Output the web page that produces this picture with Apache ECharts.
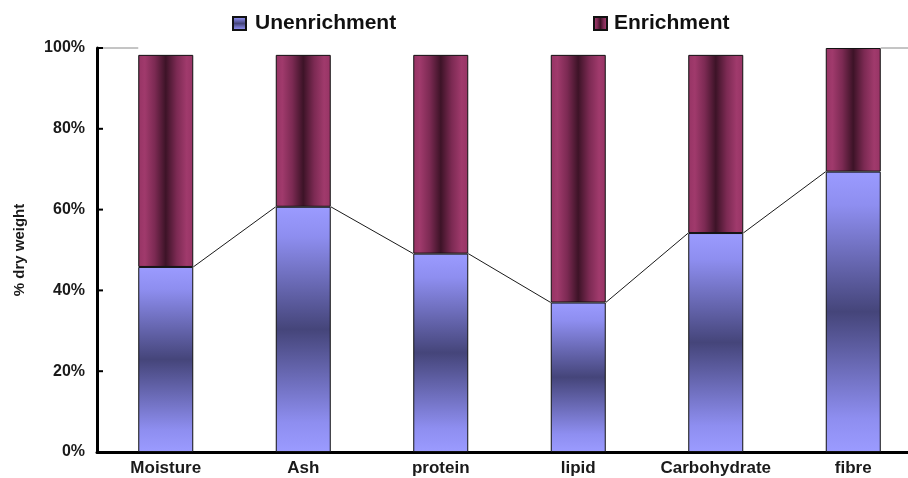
<!DOCTYPE html>
<html>
<head>
<meta charset="utf-8">
<script src="https://cdn.jsdelivr.net/npm/echarts@6/dist/echarts.min.js"></script>
<style>
  html, body { margin: 0; padding: 0; background: #ffffff; }
  #chart { width: 908px; height: 478px; }
</style>
</head>
<body>
<div id="chart"></div>
<script>
// Proximate composition, share of dry weight (%)
const categories = ['Moisture', 'Ash', 'protein', 'lipid', 'Carbohydrate', 'fibre'];
const unenrichment = [45.8, 60.7, 49.1, 37.0, 54.2, 69.4];
const enrichment = [52.5, 37.6, 49.2, 61.3, 44.1, 30.6];
const yTicks = [0, 20, 40, 60, 80, 100];

const FONT = '"Liberation Sans", Arial, sans-serif';
const BAR_RATIO = 0.4;
const TICK_LEN = 6;

const blueFill = new echarts.graphic.LinearGradient(0, 0, 0, 1, [
  { offset: 0, color: '#9b9bff' },
  { offset: 0.12, color: '#8e8ef0' },
  { offset: 0.5, color: '#45457a' },
  { offset: 0.88, color: '#8e8ef0' },
  { offset: 1, color: '#9b9bff' }
]);
const plumFill = new echarts.graphic.LinearGradient(0, 0, 1, 0, [
  { offset: 0, color: '#973465' },
  { offset: 0.12, color: '#a03a6c' },
  { offset: 0.3, color: '#7c2a53' },
  { offset: 0.5, color: '#3d1327' },
  { offset: 0.7, color: '#7c2a53' },
  { offset: 0.88, color: '#a03a6c' },
  { offset: 1, color: '#973465' }
]);

// Connector lines between the tops of the lower segments,
// the short 100% rule at both ends of the plot, and the
// inward tick marks on the value axis.
function seriesLines(params, api) {
  const i = params.dataIndex;
  const n = unenrichment.length;
  const band = api.size([1, 0])[0];
  const half = band * BAR_RATIO / 2;
  const children = [];
  const cur = api.coord([i, unenrichment[i]]);
  if (i < n - 1) {
    const nxt = api.coord([i + 1, unenrichment[i + 1]]);
    children.push({
      type: 'line',
      shape: { x1: cur[0] + half, y1: cur[1], x2: nxt[0] - half, y2: nxt[1] },
      style: { stroke: '#1a1a1a', lineWidth: 1 }
    });
  }
  const top = api.coord([i, yTicks[yTicks.length - 1]]);
  if (i === 0) {
    const axisX = top[0] - band / 2;
    children.push({
      type: 'line',
      shape: { x1: axisX, y1: top[1], x2: top[0] - half, y2: top[1] },
      style: { stroke: '#8a8a8a', lineWidth: 1 }
    });
    yTicks.forEach(function (t) {
      const p = api.coord([i, t]);
      children.push({
        type: 'line',
        shape: { x1: axisX, y1: p[1], x2: axisX + TICK_LEN, y2: p[1] },
        style: { stroke: '#000', lineWidth: 2 }
      });
    });
  }
  if (i === n - 1) {
    children.push({
      type: 'line',
      shape: { x1: top[0] + half, y1: top[1], x2: top[0] + band / 2, y2: top[1] },
      style: { stroke: '#8a8a8a', lineWidth: 1 }
    });
  }
  return { type: 'group', children: children };
}

const chart = echarts.init(document.getElementById('chart'), null, { renderer: 'canvas' });

chart.setOption({
  animation: false,
  backgroundColor: '#ffffff',
  textStyle: { fontFamily: FONT },
  // the plot runs slightly past the right edge of the canvas
  grid: { left: 97, top: 48, height: 404, width: 825, containLabel: false, outerBoundsMode: 'none' },
  legend: [
    {
      data: ['Unenrichment'],
      icon: 'rect',
      left: 232, top: 13, padding: 0,
      itemWidth: 13, itemHeight: 13,
      textStyle: { fontSize: 21, fontWeight: 'bold', color: '#111', fontFamily: FONT, padding: [0, 0, 0, 4] }
    },
    {
      data: ['Enrichment'],
      icon: 'rect',
      left: 593, top: 13, padding: 0,
      itemWidth: 13, itemHeight: 13,
      textStyle: { fontSize: 21, fontWeight: 'bold', color: '#111', fontFamily: FONT, padding: [0, 0, 0, 2] }
    }
  ],
  xAxis: {
    type: 'category',
    data: categories,
    axisLine: { lineStyle: { color: '#000', width: 3 } },
    axisTick: { show: false },
    axisLabel: { interval: 0, fontSize: 17, fontWeight: 'bold', color: '#1a1a1a', margin: 8, fontFamily: FONT }
  },
  yAxis: {
    type: 'value',
    min: yTicks[0],
    max: yTicks[yTicks.length - 1],
    interval: yTicks[1] - yTicks[0],
    name: '% dry weight',
    nameLocation: 'middle',
    nameGap: 70,
    nameRotate: 90,
    nameTextStyle: { fontSize: 15, fontWeight: 'bold', color: '#1a1a1a', fontFamily: FONT },
    axisLine: { show: true, lineStyle: { color: '#000', width: 3 } },
    axisTick: { show: false },
    splitLine: { show: false },
    axisLabel: { formatter: '{value}%', fontSize: 16, fontWeight: 'bold', color: '#1a1a1a', margin: 12, fontFamily: FONT }
  },
  series: [
    {
      name: 'Unenrichment',
      type: 'bar',
      stack: 'total',
      barWidth: (BAR_RATIO * 100) + '%',
      data: unenrichment,
      itemStyle: { color: blueFill, borderColor: '#111', borderWidth: 1 }
    },
    {
      name: 'Enrichment',
      type: 'bar',
      stack: 'total',
      barWidth: (BAR_RATIO * 100) + '%',
      data: enrichment,
      itemStyle: { color: plumFill, borderColor: '#111', borderWidth: 1 }
    },
    {
      name: 'lines',
      type: 'custom',
      renderItem: seriesLines,
      data: unenrichment.map((v, i) => [i, v]),
      clip: false,
      z: 5,
      silent: true
    }
  ]
});
</script>
</body>
</html>
